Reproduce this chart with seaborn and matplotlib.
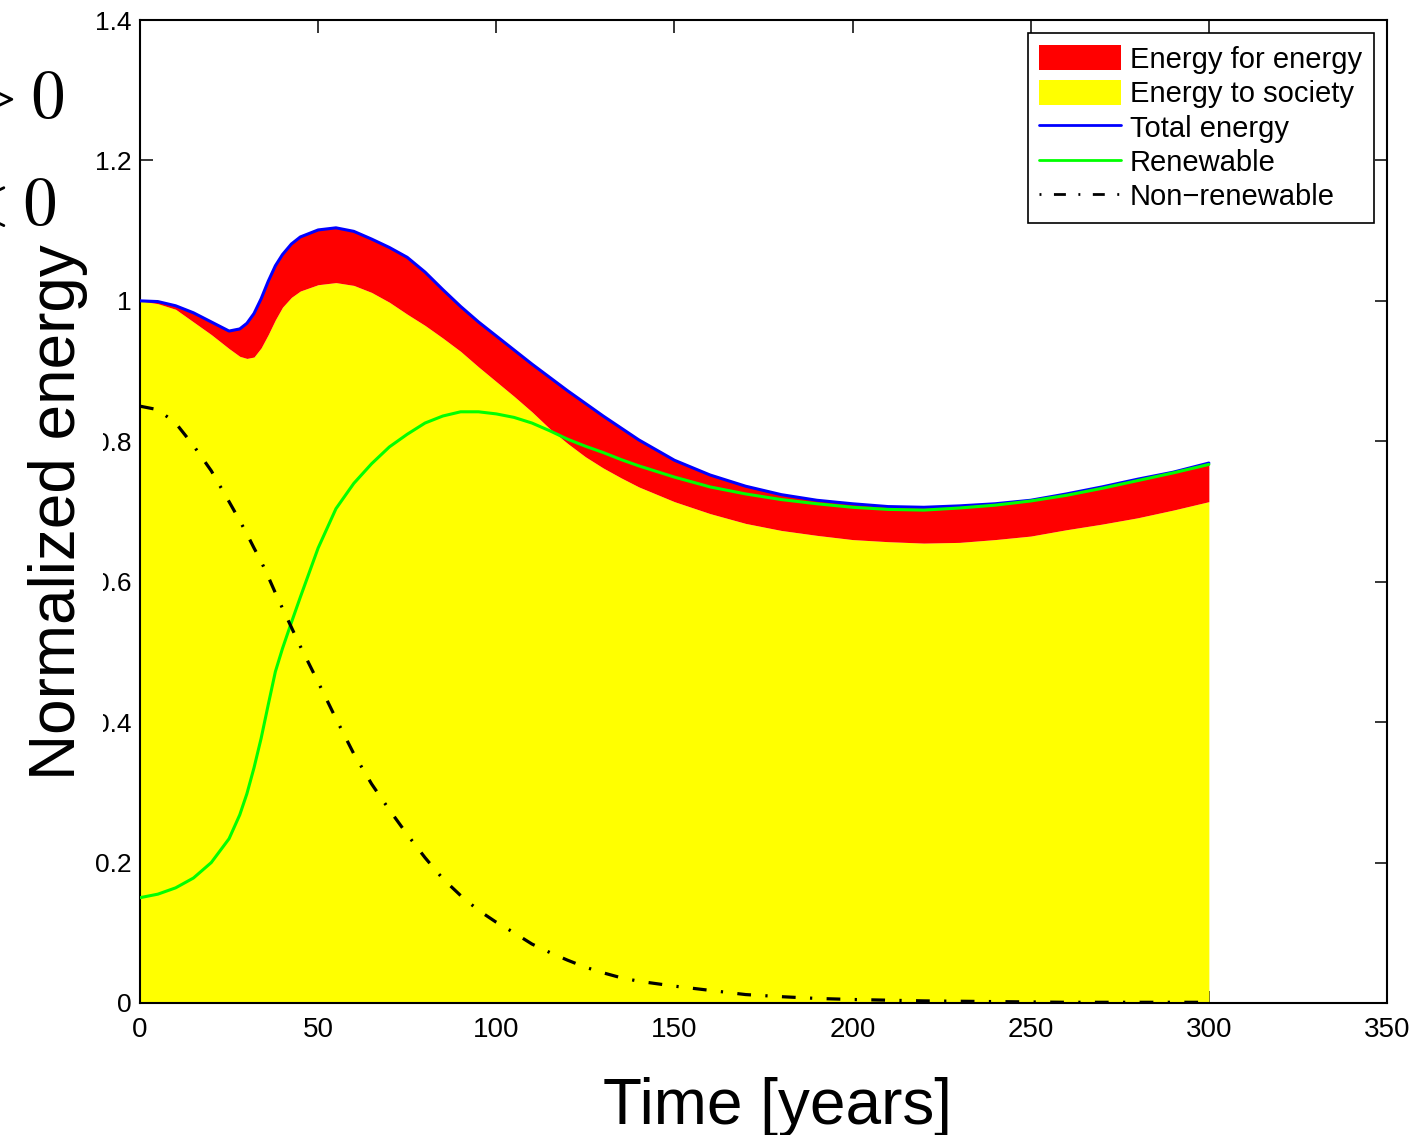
import matplotlib
matplotlib.use("Agg")
import matplotlib.pyplot as plt
import seaborn as sns
from matplotlib.patches import Patch
from matplotlib.lines import Line2D
from matplotlib.ticker import FormatStrFormatter

# values
years = [0, 5, 10, 15, 20, 25, 28, 30, 32, 34, 36, 38, 40, 42.5, 45, 50, 55, 60, 65, 70,
         75, 80, 85, 90, 95, 100, 105, 110, 115, 120, 125, 130, 135, 140, 150, 160, 170,
         180, 190, 200, 210, 220, 230, 240, 250, 260, 270, 280, 290, 300]
total_energy = [1.000, 0.999, 0.993, 0.983, 0.970, 0.957, 0.960, 0.968, 0.982, 1.003, 1.028,
                1.050, 1.066, 1.081, 1.091, 1.101, 1.104, 1.099, 1.088, 1.076, 1.062, 1.041,
                1.016, 0.992, 0.970, 0.950, 0.930, 0.910, 0.891, 0.872, 0.854, 0.836, 0.819,
                0.802, 0.773, 0.752, 0.736, 0.724, 0.716, 0.711, 0.707, 0.706, 0.708, 0.711,
                0.716, 0.725, 0.735, 0.746, 0.756, 0.769]
energy_to_society = [1.000, 0.996, 0.988, 0.970, 0.952, 0.932, 0.921, 0.918, 0.920, 0.933,
                     0.952, 0.973, 0.991, 1.005, 1.014, 1.023, 1.026, 1.022, 1.012, 0.998,
                     0.981, 0.965, 0.947, 0.928, 0.906, 0.885, 0.864, 0.842, 0.818, 0.797,
                     0.778, 0.762, 0.748, 0.735, 0.714, 0.697, 0.683, 0.673, 0.666, 0.660,
                     0.657, 0.655, 0.656, 0.660, 0.665, 0.674, 0.682, 0.691, 0.702, 0.714]
renewable = [0.150, 0.155, 0.164, 0.178, 0.200, 0.234, 0.268, 0.298, 0.335, 0.377, 0.425,
             0.472, 0.505, 0.542, 0.578, 0.648, 0.704, 0.740, 0.768, 0.792, 0.810, 0.826,
             0.836, 0.842, 0.842, 0.839, 0.834, 0.826, 0.815, 0.803, 0.793, 0.784, 0.774,
             0.765, 0.749, 0.735, 0.725, 0.717, 0.711, 0.706, 0.703, 0.702, 0.705, 0.709,
             0.715, 0.723, 0.733, 0.744, 0.755, 0.767]
non_renewable = [0.850, 0.845, 0.826, 0.794, 0.758, 0.714, 0.687, 0.668, 0.648, 0.629, 0.607,
                 0.584, 0.562, 0.535, 0.508, 0.457, 0.405, 0.355, 0.312, 0.275, 0.240, 0.207,
                 0.177, 0.153, 0.132, 0.115, 0.100, 0.084, 0.072, 0.061, 0.051, 0.043, 0.036,
                 0.031, 0.024, 0.018, 0.012, 0.009, 0.0065, 0.005, 0.004, 0.003, 0.0025,
                 0.002, 0.0015, 0.001, 0.001, 0.001, 0.001, 0.001]
legend_labels = ["Energy for energy", "Energy to society", "Total energy",
                 "Renewable", "Non\u2212renewable"]

sns.set_theme(style="ticks")
plt.rcParams["font.family"] = ["Liberation Sans", "DejaVu Sans"]
plt.rcParams["mathtext.fontset"] = "cm"
plt.rcParams["text.color"] = "black"

fig = plt.figure(figsize=(14.11, 11.35), dpi=100)
ax = fig.add_axes([140 / 1411, 132 / 1135, 1247 / 1411, 983 / 1135])

# stacked areas
ax.fill_between(years, 0, energy_to_society, color="#ffff00", lw=0, zorder=1)
ax.fill_between(years, energy_to_society, total_energy, color="#ff0000", lw=0, zorder=1)

# curves
dashdot = (0, (4.3, 4.5, 0.7, 4.5))
sns.lineplot(x=years, y=total_energy, color="#0000ff", lw=2.2, ax=ax, zorder=3)
sns.lineplot(x=years, y=renewable, color="#00ff00", lw=2.2, ax=ax, zorder=3)
sns.lineplot(x=years, y=non_renewable, color="black", lw=2.3, ls=dashdot, ax=ax, zorder=3)

ax.set_xlim(0, 350)
ax.set_ylim(0, 1.4)
ax.set_xticks(range(0, 351, 50))
ax.set_yticks([0, 0.2, 0.4, 0.6, 0.8, 1.0, 1.2, 1.4])
ax.yaxis.set_major_formatter(FormatStrFormatter("%g"))
ax.set_xlabel("")
ax.set_ylabel("")
ax.tick_params(direction="in", top=True, right=True, length=9, width=1.1,
               colors="black", labelcolor="black")
ax.tick_params(axis="x", labelsize=20, pad=10)
ax.tick_params(axis="y", labelsize=19, pad=6)
for sp in ax.spines.values():
    sp.set_visible(True)
    sp.set_color("black")
    sp.set_linewidth(1.5)

handles = [
    Patch(facecolor="#ff0000", edgecolor="none"),
    Patch(facecolor="#ffff00", edgecolor="none"),
    Line2D([], [], color="#0000ff", lw=2),
    Line2D([], [], color="#00ff00", lw=2),
    Line2D([], [], color="black", lw=2, ls=(8.8, (4.3, 4.5, 0.7, 4.5))),
]
leg = ax.legend(handles, legend_labels, loc="upper right", fontsize=21, frameon=True,
                fancybox=False, framealpha=1, edgecolor="black", handlelength=2.8,
                handleheight=0.95, handletextpad=0.3, labelspacing=0.2, borderpad=0.4,
                borderaxespad=0.46)
leg.get_frame().set_linewidth(1.2)

# axis titles
fig.text(777 / 1411, 11 / 1135, "Time [years]", fontsize=46, ha="center", va="baseline")
fig.text(58 / 1411, 1 - 512 / 1135, "Normalized energy", fontsize=46, rotation=90,
         ha="center", va="center",
         bbox=dict(facecolor="white", edgecolor="none", pad=11))

# stray labels at the top left
fig.text(64 / 1411, 1 - 117 / 1135, r"$>0$", fontsize=50, ha="right", va="baseline")
fig.text(56 / 1411, 1 - 224 / 1135, r"$<0$", fontsize=50, ha="right", va="baseline")

fig.savefig("out.png", dpi=100)
